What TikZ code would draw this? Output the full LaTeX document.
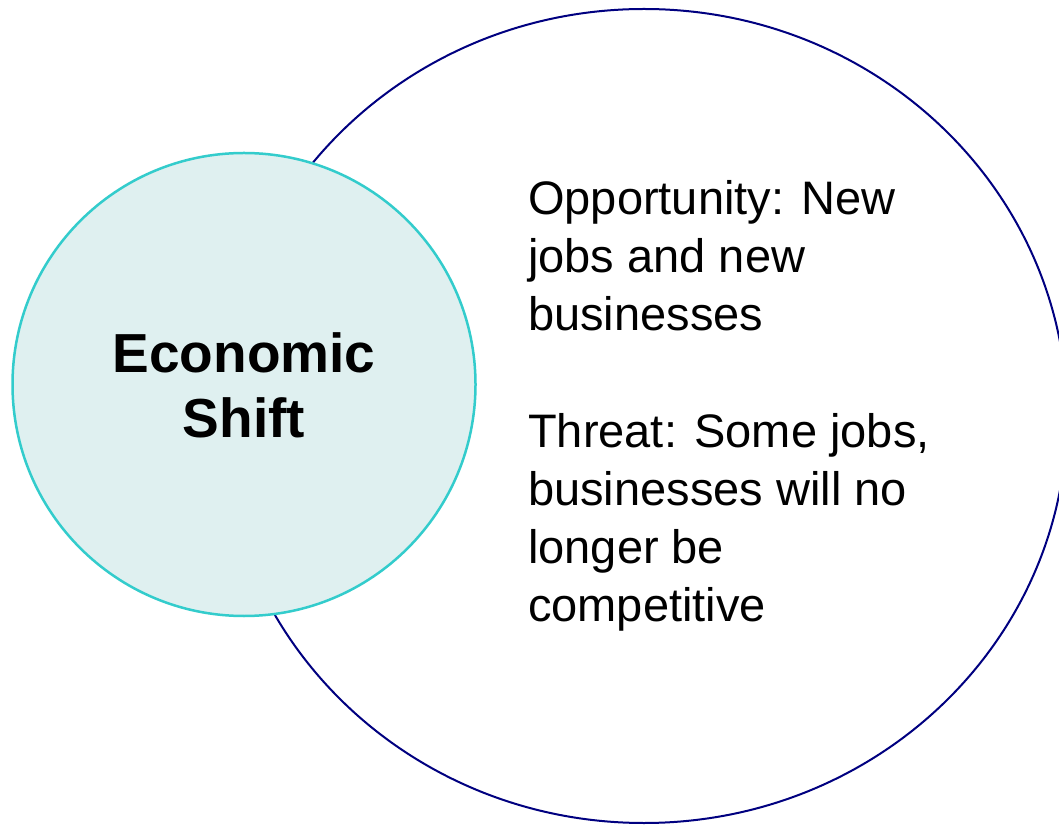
\documentclass[tikz,border=0pt]{standalone}
\usepackage{fontspec}
\setmainfont{Liberation Sans}
\definecolor{navyline}{HTML}{000080}
\definecolor{tealline}{HTML}{33CCCC}
\definecolor{tealfill}{HTML}{DFF0F0}
\tikzset{
  bigshape/.style={draw=navyline, line width=2pt},
  smallshape/.style={draw=tealline, fill=tealfill, line width=2.5pt},
  bodytext/.style={font=\fontsize{47}{58}\selectfont, align=left, anchor=base west, inner sep=0pt},
  titletext/.style={font=\fontsize{55}{65}\selectfont\bfseries, align=center, inner sep=0pt}
}
\begin{document}
\begin{tikzpicture}[x=1pt,y=1pt]
\useasboundingbox (0,0) rectangle (1059,825);
\clip (0,0) rectangle (1059,825);
\fill[white] (0,0) rectangle (1059,825);
\draw[bigshape] (644,409) ellipse [x radius=423, y radius=407];
\node[smallshape, circle, minimum size=463, inner sep=0pt] (shift) at (244,440.5) {};
\node[titletext, anchor=base] (title) at (244,387) {Economic\\Shift};
\node[bodytext] (opp) at (528,494) {Opportunity: New\\jobs and new\\businesses};
\node[bodytext] (threat) at (528,204) {Threat: Some jobs,\\businesses will no\\longer be\\competitive};
\end{tikzpicture}
\end{document}
